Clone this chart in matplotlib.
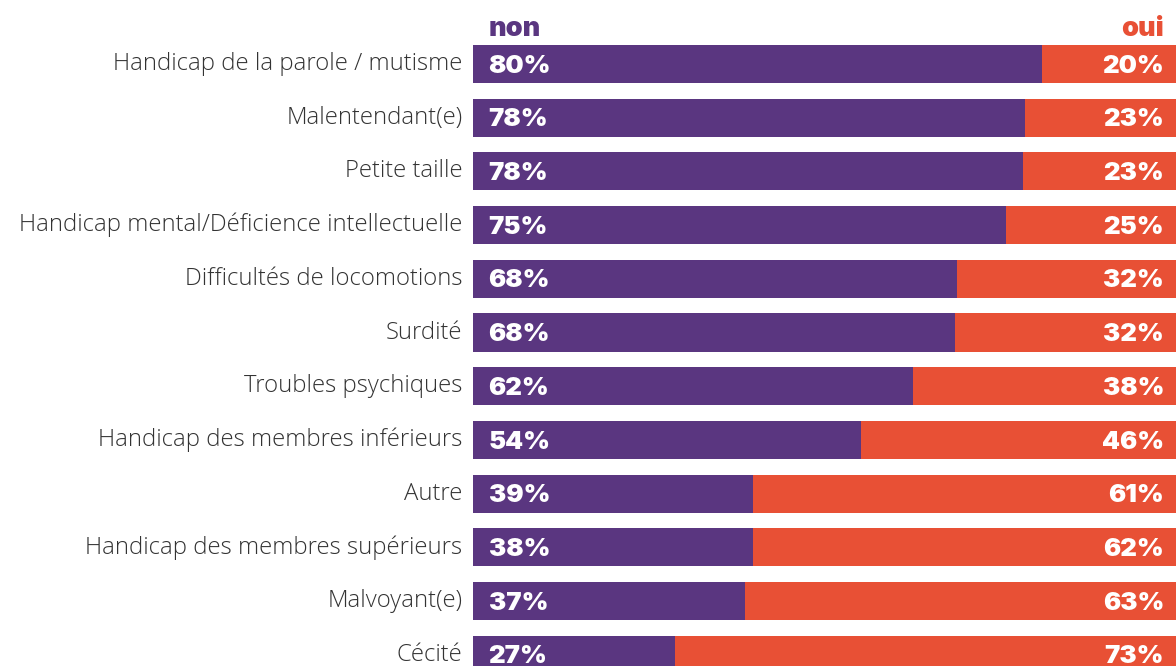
import matplotlib
matplotlib.use("Agg")
import matplotlib.pyplot as plt

categories = [
    "Handicap de la parole / mutisme",
    "Malentendant(e)",
    "Petite taille",
    "Handicap mental/Déficience intellectuelle",
    "Difficultés de locomotions",
    "Surdité",
    "Troubles psychiques",
    "Handicap des membres inférieurs",
    "Autre",
    "Handicap des membres supérieurs",
    "Malvoyant(e)",
    "Cécité",
]
non_share = [80.1, 77.7, 77.5, 75.1, 68.2, 67.9, 62.0, 54.6, 39.4, 39.4, 38.3, 28.5]
non_labels = [80, 78, 78, 75, 68, 68, 62, 54, 39, 38, 37, 27]
oui_labels = [20, 23, 23, 25, 32, 32, 38, 46, 61, 62, 63, 73]
series_names = ["non", "oui"]

PURPLE = "#5a3680"
ORANGE = "#e85035"
W, H = 1176, 666

fig = plt.figure(figsize=(W / 100, H / 100), dpi=100)
ax = fig.add_axes([473 / W, 0, 710 / W, 1])

y = list(range(len(categories)))
oui_share = [100 - v for v in non_share]
ax.barh(y, non_share, height=0.71, color=PURPLE)
ax.barh(y, oui_share, left=non_share, height=0.71, color=ORANGE)

ax.set_xlim(0, 100)
ax.set_ylim(11.21, -1.192)
ax.axis("off")

right_x = (1164 - 473) / 710 * 100
val_font = dict(family="Inter", weight="black", size=18.5, color="white")
for i in y:
    ax.text(2.2, i + 0.04, f"{non_labels[i]}%", va="center", ha="left", **val_font)
    ax.text(right_x, i + 0.04, f"{oui_labels[i]}%", va="center", ha="right", **val_font)
    ax.text(-1.5, i, categories[i], va="center", ha="right",
            family="Open Sans", weight="light", size=17.2, color="#333333")

ax.text(2.2, -0.52, series_names[0], va="baseline", ha="left",
        family="Inter", weight="black", size=19.5, color=PURPLE)
ax.text(right_x, -0.52, series_names[1], va="baseline", ha="right",
        family="Inter", weight="black", size=19.5, color=ORANGE)

fig.savefig("out.png", dpi=100)
